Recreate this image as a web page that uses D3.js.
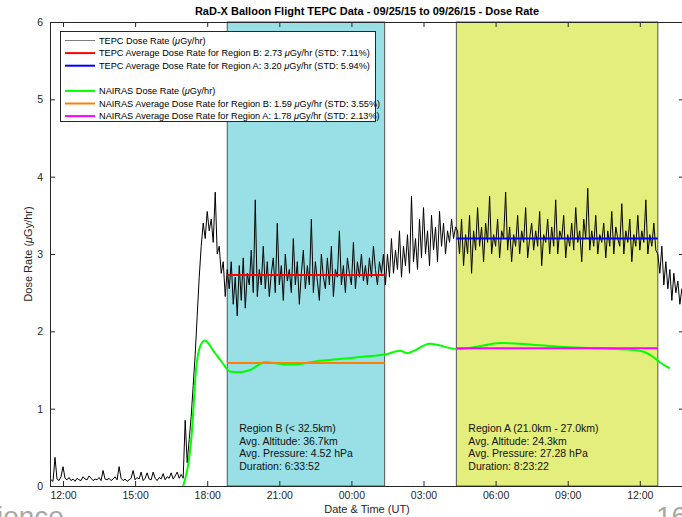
<!DOCTYPE html>
<html>
<head>
<meta charset="utf-8">
<script src="https://cdn.jsdelivr.net/npm/d3@7"></script>
<style>
  body { margin: 0; background: #fff; }
  svg text { font-family: "Liberation Sans Narrow", "Liberation Sans", Arial, sans-serif; }
</style>
</head>
<body>
<div id="chart"></div>
<script>
// TEPC dose rate, one reading every 5 minutes from 09/25 11:30 UT
const tepcStart = new Date(2015, 8, 25, 11, 30);
const tepcStepMin = 5;
const tepcValues = [
  // ground / ascent
  0.08, 0.06, 0.37, 0.09, 0.07, 0.12, 0.25, 0.1, 0.08, 0.11,
  0.07, 0.09, 0.06, 0.1, 0.08, 0.07, 0.12, 0.09, 0.08, 0.13,
  0.1, 0.07, 0.09, 0.08, 0.11, 0.07, 0.2, 0.09, 0.08, 0.1,
  0.07, 0.09, 0.12, 0.08, 0.25, 0.1, 0.07, 0.09, 0.06, 0.08,
  0.1, 0.2, 0.08, 0.11, 0.09, 0.18, 0.07, 0.1, 0.17, 0.09,
  0.08, 0.18, 0.1, 0.07, 0.11, 0.09, 0.16, 0.08, 0.12, 0.1,
  0.17, 0.09, 0.13, 0.18, 0.1, 0.15,
  0.1, 0.85, 0.3, 0.6, 0.9, 1.3, 1.7, 2.2, 2.7, 3.1, 3.4, 3.2, 3.55, 3.3, 3.45,
  3.15, 3.8, 3.0, 3.1, 2.75, 2.9, 2.45, 2.8,
  // region B
  2.55, 2.9, 2.35, 2.7, 2.2, 2.85, 2.4, 2.95, 2.3, 2.75,
  2.6, 3.05, 2.5, 3.7, 2.45, 2.8, 2.6, 3.1, 2.55, 2.9,
  2.45, 2.75, 2.95, 2.5, 3.4, 2.6, 2.85, 2.4, 3.0, 2.65,
  2.8, 2.5, 3.2, 2.6, 2.9, 2.35, 2.75, 3.05, 2.55, 2.85,
  2.6, 3.45, 2.5, 2.9, 2.65, 2.4, 3.0, 2.7, 2.55, 2.95,
  2.6, 3.1, 2.45, 2.8, 2.7, 3.3, 2.6, 2.85, 2.5, 2.95,
  2.75, 2.6, 3.15, 2.55, 2.9, 2.7, 3.0, 2.65, 2.85, 2.6,
  2.95, 2.7, 3.1, 2.8, 2.6, 2.9, 2.75, 3.0,
  // between regions
  2.6, 3.0, 2.7, 3.2, 2.75, 3.05, 2.8, 3.3, 2.7, 3.1,
  2.85, 3.25, 2.75, 3.75, 2.9, 3.2, 2.8, 3.45, 2.95, 3.6,
  3.0, 3.3, 2.85, 3.5, 3.05, 3.35, 2.9, 3.55, 3.1, 3.4,
  3.0, 3.3, 3.15, 3.45, 3.2, 3.35,
  // region A
  3.3, 3.0, 3.45, 2.85, 3.25, 3.0, 3.5, 2.75, 3.3, 3.05,
  3.6, 3.1, 3.35, 2.9, 3.4, 3.15, 3.75, 3.0, 3.25, 3.1,
  3.45, 2.95, 3.3, 3.2, 3.8, 3.05, 3.35, 2.9, 3.25, 3.1,
  3.5, 3.0, 3.3, 3.15, 3.6, 2.95, 3.2, 3.4, 3.05, 3.3,
  3.1, 3.55, 2.85, 3.25, 3.15, 3.45, 3.0, 3.35, 3.1, 3.7,
  3.0, 3.3, 3.2, 3.5, 2.95, 3.25, 3.1, 3.4, 3.05, 3.6,
  3.15, 3.3, 2.9, 3.45, 3.2, 3.85, 3.05, 3.3, 3.1, 3.5,
  3.0, 3.25, 3.15, 3.4, 2.95, 3.3, 3.1, 3.55, 3.0, 3.35,
  3.2, 3.1, 3.65, 3.0, 3.3, 3.15, 3.45, 2.9, 3.25, 3.1,
  3.5, 3.05, 3.3, 3.15, 3.7, 3.0, 3.25, 3.1, 3.4, 3.05,
  // descent
  3.0, 2.75, 3.1, 2.6, 2.9, 2.55, 2.8, 2.4, 2.75, 2.5, 2.65, 2.35, 2.55, 2.45
];

// NAIRAS model dose rate
const nairasTimes = [
  "2015-09-25 17:00", "2015-09-25 17:22", "2015-09-25 17:32", "2015-09-25 17:42",
  "2015-09-25 17:54", "2015-09-25 18:19", "2015-09-25 18:37", "2015-09-25 18:57",
  "2015-09-25 19:17", "2015-09-25 19:47", "2015-09-25 20:24", "2015-09-25 21:27",
  "2015-09-25 22:42", "2015-09-25 23:44", "2015-09-26 00:46", "2015-09-26 01:24",
  "2015-09-26 02:01", "2015-09-26 02:19", "2015-09-26 03:16", "2015-09-26 04:24",
  "2015-09-26 05:14", "2015-09-26 06:11", "2015-09-26 07:26", "2015-09-26 08:41",
  "2015-09-26 10:21", "2015-09-26 12:00", "2015-09-26 12:25", "2015-09-26 12:50",
  "2015-09-26 13:15"
];
const nairasValues = [
  0.0, 0.72, 1.5, 1.8, 1.88, 1.72, 1.6, 1.48,
  1.47, 1.5, 1.6, 1.57, 1.62, 1.65, 1.68, 1.7,
  1.75, 1.72, 1.84, 1.77, 1.8, 1.85, 1.83, 1.8,
  1.78, 1.75, 1.7, 1.6, 1.52
];

// flight regions
const regionNames = ["B", "A"];
const regionStart = ["2015-09-25 18:50", "2015-09-26 04:22"];
const regionEnd = ["2015-09-26 01:23", "2015-09-26 12:45"];
const regionColors = ["#98e0e6", "#e4ee7c"];
const regionNotes = [
  ["Region B (< 32.5km)", "Avg. Altitude: 36.7km", "Avg. Pressure: 4.52 hPa", "Duration: 6:33:52"],
  ["Region A (21.0km - 27.0km)", "Avg. Altitude: 24.3km", "Avg. Pressure: 27.28 hPa", "Duration: 8:23:22"]
];
const tepcAverages = [2.73, 3.20];
const nairasAverages = [1.59, 1.78];

const yTicks = [0, 1, 2, 3, 4, 5, 6];

const legendItems = [
  {pre: "TEPC Dose Rate (", post: "Gy/hr)", color: "#808080", w: 1},
  {pre: "TEPC Average Dose Rate for Region B: 2.73 ", post: "Gy/hr (STD: 7.11%)", color: "#ff0000", w: 2},
  {pre: "TEPC Average Dose Rate for Region A: 3.20 ", post: "Gy/hr (STD: 5.94%)", color: "#0000ff", w: 2},
  null,
  {pre: "NAIRAS Dose Rate (", post: "Gy/hr)", color: "#00ff00", w: 2},
  {pre: "NAIRAS Average Dose Rate for Region B: 1.59 ", post: "Gy/hr (STD: 3.55%)", color: "#ff8000", w: 2},
  {pre: "NAIRAS Average Dose Rate for Region A: 1.78 ", post: "Gy/hr (STD: 2.13%)", color: "#ff00ff", w: 2}
];

const W = 682, H = 517;
const mLeft = 50, mRight = 684, mTop = 22, mBottom = 486;
const parse = d3.timeParse("%Y-%m-%d %H:%M");

const svg = d3.select("#chart").append("svg")
    .attr("width", W).attr("height", H);

const x = d3.scaleTime()
    .domain([new Date(2015, 8, 25, 11, 27, 30), new Date(2015, 8, 26, 13, 50, 20)])
    .range([mLeft, mRight]);
const y = d3.scaleLinear().domain([0, 6]).range([mBottom, mTop]);

// shaded regions
regionNames.forEach((r, i) => {
  svg.append("rect")
      .attr("x", x(parse(regionStart[i])))
      .attr("y", mTop)
      .attr("width", x(parse(regionEnd[i])) - x(parse(regionStart[i])))
      .attr("height", mBottom - mTop)
      .attr("fill", regionColors[i])
      .attr("stroke", "#555")
      .attr("stroke-width", 1);
});

// TEPC trace
const tepc = tepcValues.map((v, i) => ({t: d3.timeMinute.offset(tepcStart, i * tepcStepMin), v: v}));
svg.append("path")
    .datum(tepc)
    .attr("fill", "none")
    .attr("stroke", "#000")
    .attr("stroke-width", 1)
    .attr("d", d3.line().x(d => x(d.t)).y(d => y(d.v)));

// TEPC averages
const avgColorsT = ["#ff0000", "#0000ff"];
regionNames.forEach((r, i) => {
  svg.append("line")
      .attr("x1", x(parse(regionStart[i]))).attr("x2", x(parse(regionEnd[i])))
      .attr("y1", y(tepcAverages[i])).attr("y2", y(tepcAverages[i]))
      .attr("stroke", avgColorsT[i]).attr("stroke-width", 2);
});

// NAIRAS
const nairas = nairasTimes.map((t, i) => ({t: parse(t), v: nairasValues[i]}));
svg.append("path")
    .datum(nairas)
    .attr("fill", "none")
    .attr("stroke", "#00ff00")
    .attr("stroke-width", 2)
    .attr("d", d3.line().curve(d3.curveMonotoneX).x(d => x(d.t)).y(d => y(d.v)));

const avgColorsN = ["#ff8000", "#ff00ff"];
regionNames.forEach((r, i) => {
  svg.append("line")
      .attr("x1", x(parse(regionStart[i]))).attr("x2", x(parse(regionEnd[i])))
      .attr("y1", y(nairasAverages[i])).attr("y2", y(nairasAverages[i]))
      .attr("stroke", avgColorsN[i]).attr("stroke-width", 2);
});

// region notes
regionNotes.forEach((lines, i) => {
  const tx = x(parse(regionStart[i])) + 12;
  lines.forEach((s, j) => {
    svg.append("text")
        .attr("x", tx).attr("y", 432 + j * 12.7)
        .attr("font-size", 10.5).attr("fill", "#111")
        .text(s);
  });
});

// axes with inward ticks
const axisCol = "#262626";
const xb = svg.append("g").attr("transform", `translate(0,${mBottom})`)
    .call(d3.axisBottom(x).ticks(d3.timeHour.every(3)).tickFormat(d3.timeFormat("%H:%M"))
      .tickSizeInner(-5).tickSizeOuter(0).tickPadding(6));
const xt = svg.append("g").attr("transform", `translate(0,${mTop})`)
    .call(d3.axisTop(x).ticks(d3.timeHour.every(3)).tickFormat("")
      .tickSizeInner(-5).tickSizeOuter(0));
const yl = svg.append("g").attr("transform", `translate(${mLeft},0)`)
    .call(d3.axisLeft(y).tickValues(yTicks).tickFormat(d3.format("d"))
      .tickSizeInner(-5).tickSizeOuter(0).tickPadding(7));
const yr = svg.append("g").attr("transform", `translate(${mRight},0)`)
    .call(d3.axisRight(y).tickValues(yTicks).tickFormat("")
      .tickSizeInner(-5).tickSizeOuter(0));
[xb, xt, yl, yr].forEach(g => {
  g.selectAll("path").attr("stroke", axisCol);
  g.selectAll("line").attr("stroke", axisCol);
  g.selectAll("text").attr("fill", axisCol).attr("font-size", 10.5)
    .style("font-family", '"Liberation Sans Narrow", "Liberation Sans", Arial, sans-serif');
});

// title and axis labels
svg.append("text")
    .attr("x", (mLeft + mRight) / 2).attr("y", 15)
    .attr("text-anchor", "middle").attr("font-weight", "bold")
    .attr("font-size", 11).attr("fill", "#000")
    .text("RaD-X Balloon Flight TEPC Data - 09/25/15 to 09/26/15 - Dose Rate");

svg.append("text")
    .attr("x", (mLeft + mRight) / 2).attr("y", 513)
    .attr("text-anchor", "middle").attr("font-size", 11).attr("fill", axisCol)
    .text("Date & Time (UT)");

const ylab = svg.append("text")
    .attr("transform", `translate(32,${(mTop + mBottom) / 2}) rotate(-90)`)
    .attr("text-anchor", "middle").attr("font-size", 11).attr("fill", axisCol);
ylab.append("tspan").text("Dose Rate (");
ylab.append("tspan").attr("font-style", "italic").text("\u03bc");
ylab.append("tspan").text("Gy/hr)");

// legend
const lg = svg.append("g");
lg.append("rect")
    .attr("x", 60.5).attr("y", 31.5).attr("width", 315).attr("height", 90)
    .attr("fill", "#ffffff").attr("stroke", "#262626").attr("stroke-width", 1);
legendItems.forEach((d, i) => {
  if (!d) return;
  const ly = 40.5 + i * 12.6;
  lg.append("line")
      .attr("x1", 65).attr("x2", 95).attr("y1", ly).attr("y2", ly)
      .attr("stroke", d.color).attr("stroke-width", d.w);
  const t = lg.append("text").attr("x", 99).attr("y", ly + 3.3)
      .attr("font-size", 9.2).attr("fill", "#000");
  t.append("tspan").text(d.pre);
  t.append("tspan").attr("font-style", "italic").text("\u03bc");
  t.append("tspan").text(d.post);
});

// slide remnants at the bottom edge
svg.append("text").attr("x", -3).attr("y", 526)
    .attr("font-size", 28).attr("fill", "#a8a8a8").text("ience");
svg.append("text").attr("x", 656).attr("y", 526)
    .attr("font-size", 28).attr("fill", "#a8a8a8").text("16");
</script>
</body>
</html>
